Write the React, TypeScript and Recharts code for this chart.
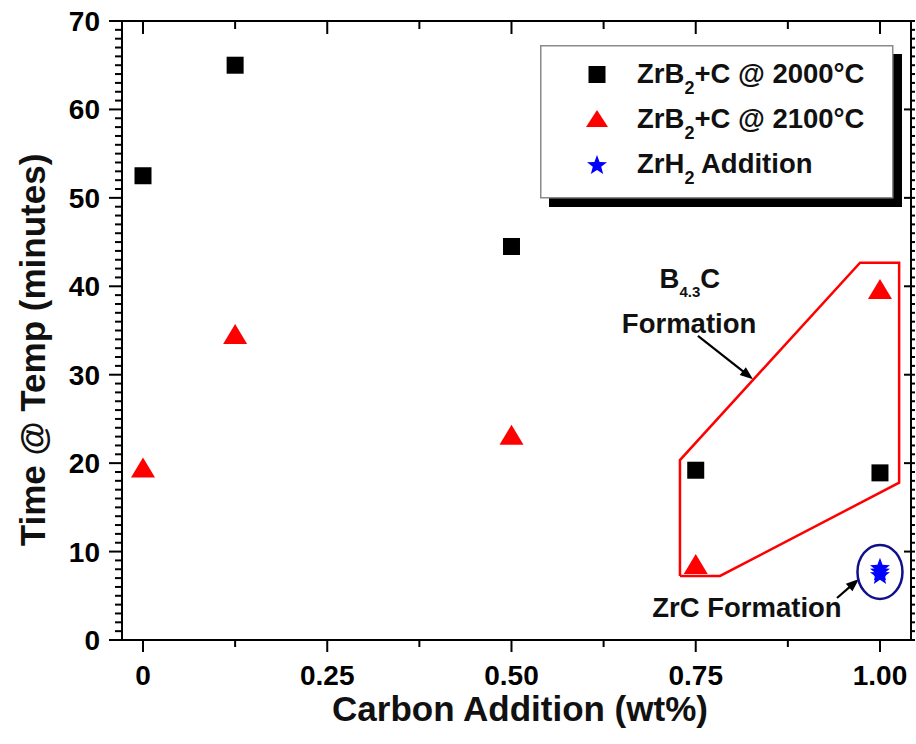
import React from 'react';
import { ScatterChart, Scatter, XAxis, YAxis, ReferenceLine, ReferenceDot, Legend } from 'recharts';

const FONT = '"Liberation Sans", Arial, Helvetica, sans-serif';

// ---- data ----
const carbon2000 = [0, 0.125, 0.5, 0.75, 1.0];
const time2000 = [52.5, 65.0, 44.5, 19.2, 18.9];
const carbon2100 = [0, 0.125, 0.5, 0.75, 1.0];
const time2100 = [19.5, 34.6, 23.2, 8.6, 39.7];
const carbonZrH2 = [1.0, 1.0, 1.0];
const timeZrH2 = [7.3, 7.7, 8.1];

// B4.3C formation region outline (data coords)
const regionX = [0.7286, 0.7286, 0.973, 1.026, 1.026, 0.783, 0.7286];
const regionY = [7.24, 20.35, 42.67, 42.67, 17.79, 7.24, 7.24];

// ticks
const xTicks = [0, 0.125, 0.25, 0.375, 0.5, 0.625, 0.75, 0.875, 1.0];
const xMajor = [0, 0.25, 0.5, 0.75, 1.0];
const xTickLabels = ['0', '0.25', '0.50', '0.75', '1.00'];
const yTicks = [
  0, 1, 2, 3, 4, 5, 6, 7, 8, 9, 10, 11, 12, 13, 14, 15, 16, 17, 18, 19, 20,
  21, 22, 23, 24, 25, 26, 27, 28, 29, 30, 31, 32, 33, 34, 35, 36, 37, 38, 39, 40,
  41, 42, 43, 44, 45, 46, 47, 48, 49, 50, 51, 52, 53, 54, 55, 56, 57, 58, 59, 60,
  61, 62, 63, 64, 65, 66, 67, 68, 69, 70,
];
const yMajor = [0, 10, 20, 30, 40, 50, 60, 70];
const yTickLabels = ['0', '10', '20', '30', '40', '50', '60', '70'];

const xDomain: [number, number] = [-0.0285, 1.0421];
const yDomain: [number, number] = [0, 70];

const series2000 = carbon2000.map((x, i) => ({ x, y: time2000[i] }));
const series2100 = carbon2100.map((x, i) => ({ x, y: time2100[i] }));
const seriesZrH2 = carbonZrH2.map((x, i) => ({ x, y: timeZrH2[i] }));
const regionData = regionX.map((x, i) => ({ x, y: regionY[i] }));

const isMajor = (v: number, list: number[]) => list.findIndex((m) => Math.abs(m - v) < 1e-9);

// ---- marker shapes ----
const starPoints = (cx: number, cy: number, R: number, r: number) => {
  const pts: string[] = [];
  for (let i = 0; i < 10; i++) {
    const rad = i % 2 === 0 ? R : r;
    const a = -Math.PI / 2 + (i * Math.PI) / 5;
    pts.push(`${cx + rad * Math.cos(a)},${cy + rad * Math.sin(a)}`);
  }
  return pts.join(' ');
};

const Square = ({ cx, cy, s = 17 }: any) => (
  <rect x={cx - s / 2} y={cy - s / 2} width={s} height={s} fill="#000" />
);
const Triangle = ({ cx, cy, w = 24, h = 20, fill = '#ff0000' }: any) => (
  <polygon points={`${cx},${cy - h / 2} ${cx + w / 2},${cy + h / 2} ${cx - w / 2},${cy + h / 2}`} fill={fill} />
);
const Star = ({ cx, cy, R = 10.5 }: any) => (
  <polygon points={starPoints(cx, cy, R, R * 0.42)} fill="#0000ff" />
);

// ---- ticks ----
const BottomTick = (props: any) => {
  const { x, y, payload } = props;
  const idx = isMajor(payload.value, xMajor);
  const major = idx >= 0;
  return (
    <g>
      <line x1={x} y1={y} x2={x} y2={y + (major ? 12 : 7)} stroke="#000" strokeWidth={2} />
      {major && (
        <text x={x} y={y + 45} textAnchor="middle" fontSize={28} fontWeight="bold" fontFamily={FONT} fill="#000">
          {xTickLabels[idx]}
        </text>
      )}
    </g>
  );
};
const TopTick = (props: any) => {
  const { x, y, payload } = props;
  const major = isMajor(payload.value, xMajor) >= 0;
  return <line x1={x} y1={y} x2={x} y2={y + (major ? 13 : 8)} stroke="#000" strokeWidth={2} />;
};
const LeftTick = (props: any) => {
  const { x, y, payload } = props;
  const idx = isMajor(payload.value, yMajor);
  const major = idx >= 0;
  return (
    <g>
      <line x1={x} y1={y} x2={x - (major ? 13 : 7)} y2={y} stroke="#000" strokeWidth={2} />
      {major && (
        <text x={x - 22} y={y + 10} textAnchor="end" fontSize={28} fontWeight="bold" fontFamily={FONT} fill="#000">
          {yTickLabels[idx]}
        </text>
      )}
    </g>
  );
};
const RightTick = (props: any) => {
  const { x, y, payload } = props;
  const major = isMajor(payload.value, yMajor) >= 0;
  return <line x1={major ? x - 7 : x} y1={y} x2={x + 4} y2={y} stroke="#000" strokeWidth={2} />;
};

// ---- annotations ----
const Arrow = (props: any) => {
  const { x1, y1, x2, y2 } = props;
  const dx = x2 - x1;
  const dy = y2 - y1;
  const len = Math.sqrt(dx * dx + dy * dy) || 1;
  const ux = dx / len;
  const uy = dy / len;
  const hl = 13;
  const hw = 5;
  const bx = x2 - ux * hl;
  const by = y2 - uy * hl;
  return (
    <g>
      <line x1={x1} y1={y1} x2={bx + ux * 2} y2={by + uy * 2} stroke="#000" strokeWidth={2.2} />
      <polygon
        points={`${x2},${y2} ${bx - uy * hw},${by + ux * hw} ${bx + uy * hw},${by - ux * hw}`}
        fill="#000"
      />
    </g>
  );
};

const annoText = { fontSize: 27.5, fontWeight: 'bold' as const, fontFamily: FONT, fill: '#111' };

const legendRows = [
  { main: 'ZrB', sub: '2', rest: '+C @ 2000°C', symbol: 'square' },
  { main: 'ZrB', sub: '2', rest: '+C @ 2100°C', symbol: 'triangle' },
  { main: 'ZrH', sub: '2', rest: ' Addition', symbol: 'star' },
];

const LegendBox = () => {
  const baselines = [38, 83, 128];
  const symY = [29.5, 73.5, 120.5];
  return (
    <svg width={364} height={164} style={{ display: 'block' }}>
      <rect x={9} y={9} width={353} height={153} fill="#000" />
      <rect x={0.75} y={0.75} width={352} height={152} fill="#fff" stroke="#8a8a8a" strokeWidth={1.5} />
      {legendRows.map((r, i) => (
        <g key={i}>
          {r.symbol === 'square' && <Square cx={57} cy={symY[i]} s={17} />}
          {r.symbol === 'triangle' && <Triangle cx={57} cy={symY[i]} w={22} h={17} />}
          {r.symbol === 'star' && <Star cx={57} cy={symY[i]} R={10.5} />}
          <text x={97} y={baselines[i]} fontSize={27.5} fontWeight="bold" fontFamily={FONT} fill="#111">
            {r.main}
            <tspan fontSize={18} dy={11}>{r.sub}</tspan>
            <tspan dy={-11}>{r.rest}</tspan>
          </text>
        </g>
      ))}
    </svg>
  );
};

export default function App() {
  return (
    <div style={{ position: 'absolute', left: 0, top: 0, width: 916, height: 744, background: '#fff' }}>
      <ScatterChart width={916} height={744} margin={{ top: 20, right: 4, bottom: 0, left: 0 }}>
        <XAxis
          type="number"
          dataKey="x"
          xAxisId="b"
          domain={xDomain}
          allowDataOverflow
          ticks={xTicks}
          interval={0}
          height={104}
          tickSize={0}
          tickMargin={0}
          tickLine={false}
          axisLine={{ stroke: '#000', strokeWidth: 2 }}
          tick={<BottomTick />}
          label={{
            content: () => (
              <text x={520} y={721} textAnchor="middle" fontSize={35} fontWeight="bold" fontFamily={FONT} fill="#111">
                Carbon Addition (wt%)
              </text>
            ),
          }}
        />
        <XAxis
          type="number"
          dataKey="x"
          xAxisId="t"
          orientation="top"
          domain={xDomain}
          allowDataOverflow
          ticks={xTicks}
          interval={0}
          height={1}
          tickSize={0}
          tickMargin={0}
          tickLine={false}
          axisLine={{ stroke: '#000', strokeWidth: 2 }}
          tick={<TopTick />}
        />
        <YAxis
          type="number"
          dataKey="y"
          yAxisId="l"
          domain={yDomain}
          allowDataOverflow
          ticks={yTicks}
          interval={0}
          width={122}
          tickSize={0}
          tickMargin={0}
          tickLine={false}
          axisLine={{ stroke: '#000', strokeWidth: 2 }}
          tick={<LeftTick />}
          label={{
            content: () => (
              <text
                x={45}
                y={350}
                transform="rotate(-90, 45, 350)"
                textAnchor="middle"
                fontSize={35}
                fontWeight="bold"
                fontFamily={FONT}
                fill="#111"
              >
                Time @ Temp (minutes)
              </text>
            ),
          }}
        />
        <YAxis
          type="number"
          dataKey="y"
          yAxisId="r"
          orientation="right"
          domain={yDomain}
          allowDataOverflow
          ticks={yTicks}
          interval={0}
          width={1}
          tickSize={0}
          tickMargin={0}
          tickLine={false}
          axisLine={{ stroke: '#000', strokeWidth: 2 }}
          tick={<RightTick />}
        />

        <Scatter
          name="region"
          data={regionData}
          xAxisId="b"
          yAxisId="l"
          line={{ stroke: '#ff0000', strokeWidth: 2.5 }}
          lineType="joint"
          shape={() => <g />}
          legendType="none"
          isAnimationActive={false}
        />

        <ReferenceLine
          xAxisId="b"
          yAxisId="l"
          segment={[{ x: 0.753, y: 34.4 }, { x: 0.8277, y: 29.5 }]}
          stroke="#000"
          shape={(p: any) => <Arrow {...p} />}
        />
        <ReferenceLine
          xAxisId="b"
          yAxisId="l"
          segment={[{ x: 0.9417, y: 4.75 }, { x: 0.9715, y: 6.9 }]}
          stroke="#000"
          shape={(p: any) => <Arrow {...p} />}
        />
        <ReferenceDot
          xAxisId="b"
          yAxisId="l"
          x={1.0}
          y={7.7}
          shape={(p: any) => (
            <ellipse cx={p.cx} cy={p.cy} rx={22.5} ry={27} fill="none" stroke="#10108a" strokeWidth={2.5} />
          )}
        />
        <ReferenceDot
          xAxisId="b"
          yAxisId="l"
          x={0.742}
          y={39.8}
          shape={(p: any) => (
            <text x={p.cx} y={p.cy} textAnchor="middle" {...annoText}>
              B<tspan fontSize={15} dy={9}>4.3</tspan>
              <tspan dy={-9}>C</tspan>
            </text>
          )}
        />
        <ReferenceDot
          xAxisId="b"
          yAxisId="l"
          x={0.741}
          y={34.72}
          shape={(p: any) => (
            <text x={p.cx} y={p.cy} textAnchor="middle" {...annoText}>
              Formation
            </text>
          )}
        />
        <ReferenceDot
          xAxisId="b"
          yAxisId="l"
          x={0.8195}
          y={2.6}
          shape={(p: any) => (
            <text x={p.cx} y={p.cy} textAnchor="middle" {...annoText}>
              ZrC Formation
            </text>
          )}
        />

        <Scatter
          name="ZrB2+C @ 2000°C"
          data={series2000}
          xAxisId="b"
          yAxisId="l"
          shape={(p: any) => <Square cx={p.cx} cy={p.cy} />}
          isAnimationActive={false}
        />
        <Scatter
          name="ZrB2+C @ 2100°C"
          data={series2100}
          xAxisId="b"
          yAxisId="l"
          shape={(p: any) => <Triangle cx={p.cx} cy={p.cy} />}
          isAnimationActive={false}
        />
        <Scatter
          name="ZrH2 Addition"
          data={seriesZrH2}
          xAxisId="b"
          yAxisId="l"
          shape={(p: any) => <Star cx={p.cx} cy={p.cy} />}
          isAnimationActive={false}
        />

        <Legend
          layout="vertical"
          verticalAlign="middle"
          align="center"
          wrapperStyle={{ position: 'absolute', top: 45, left: 540, width: 364, height: 164 }}
          content={() => <LegendBox />}
        />
      </ScatterChart>
    </div>
  );
}
